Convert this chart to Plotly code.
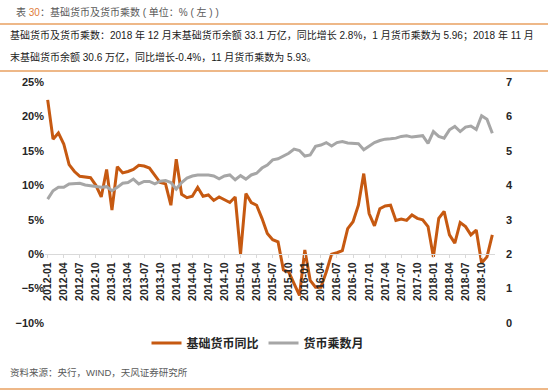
import pandas as pd
import plotly.graph_objects as go

months = pd.date_range("2012-01-01", "2018-12-01", freq="MS").strftime("%Y-%m").tolist()

base_money_yoy = [
    22.4, 16.7, 17.6, 16.0, 13.0, 12.0, 11.3, 11.2, 11.1, 10.0, 8.3, 12.3,   # 2012
    6.4, 12.7, 11.8, 12.0, 12.3, 12.9, 12.8, 12.5, 11.5, 10.4, 10.2, 7.1,    # 2013
    13.8, 8.7, 8.2, 8.4, 9.7, 8.4, 8.6, 7.8, 8.3, 7.9, 7.5, 8.3,             # 2014
    0.0, 8.8, 7.5, 7.1, 5.2, 3.0, 2.1, 1.8, -2.3, -2.6, -4.3, -6.0,         # 2015
    0.6, -3.8, -4.8, -4.8, -2.6, 0.0, 0.2, 0.5, 3.7, 4.7, 7.1, 11.7,        # 2016
    5.9, 4.1, 6.6, 7.0, 7.1, 4.9, 5.1, 4.9, 5.7, 5.2, 5.0, 4.0,             # 2017
    -0.4, 5.2, 6.2, 2.8, 1.6, 4.6, 4.0, 2.8, 3.5, -1.3, -0.4, 2.8,          # 2018
]

money_multiplier = [
    3.60, 3.84, 3.94, 3.94, 4.04, 4.04, 4.06, 4.01, 3.98, 3.96, 3.94, 3.96,  # 2012
    3.84, 3.94, 4.06, 4.08, 4.18, 4.04, 4.11, 4.11, 4.04, 4.12, 4.14, 4.08,  # 2013
    3.89, 4.08, 4.21, 4.27, 4.30, 4.30, 4.30, 4.27, 4.19, 4.27, 4.30, 4.16,  # 2014
    4.28, 4.18, 4.30, 4.35, 4.50, 4.59, 4.74, 4.77, 4.85, 4.93, 5.05, 5.01,  # 2015
    4.85, 4.88, 5.13, 5.17, 5.24, 5.14, 5.24, 5.27, 5.23, 5.23, 5.21, 5.03,  # 2016
    5.14, 5.24, 5.30, 5.34, 5.35, 5.37, 5.42, 5.44, 5.40, 5.42, 5.44, 5.22,  # 2017
    5.56, 5.42, 5.37, 5.61, 5.71, 5.56, 5.69, 5.72, 5.62, 6.02, 5.92, 5.51,  # 2018
]

tick_labels = months[::3]

series_names = ["基础货币同比", "货币乘数月"]

title_text = '表 <span style="color:#E07B39">30</span>：基础货币及货币乘数 ( 单位：% ( 左 ) )'
subtitle_1 = "基础货币及货币乘数：2018 年 12 月末基础货币余额 33.1 万亿，同比增长 2.8%，1 月货币乘数为 5.96；2018 年 11 月"
subtitle_2 = "末基础货币余额 30.6 万亿，同比增长-0.4%，11 月货币乘数为 5.93。"
source_text = "资料来源：央行，WIND，天风证券研究所"

ORANGE = "#C65911"
GRAY = "#A6A6A6"
ACCENT = "#E8A160"
TXT_FONT = "Liberation Sans, Noto Sans CJK SC, sans-serif"

L, R, T, B = 45, 55, 82, 69
W, H = 550, 392
PW, PH = W - L - R, H - T - B


def px(x):
    return (x - L) / PW


def py(y):
    return (H - B - y) / PH


fig = go.Figure()
fig.add_trace(go.Scatter(
    x=months, y=money_multiplier, name=series_names[1], yaxis="y2",
    mode="lines", line=dict(color=GRAY, width=3), legendrank=2,
))
fig.add_trace(go.Scatter(
    x=months, y=base_money_yoy, name=series_names[0], yaxis="y",
    mode="lines", line=dict(color=ORANGE, width=3), legendrank=1,
))

tick_font = dict(family="Liberation Sans, Arial, sans-serif", size=11, color="#262626", weight="bold")

fig.update_layout(
    width=W, height=H,
    margin=dict(l=L, r=R, t=T, b=B, autoexpand=False),
    paper_bgcolor="white", plot_bgcolor="white",
    showlegend=True,
    legend=dict(
        orientation="h", x=px(258), y=py(343), xanchor="center", yanchor="middle",
        font=dict(family="Noto Sans CJK SC", size=12, color="#262626", weight="bold"),
        itemwidth=30, tracegroupgap=0, bgcolor="rgba(0,0,0,0)",
    ),
    xaxis=dict(
        type="category", range=[-0.5, len(months) - 0.5],
        anchor="free", position=10 / 35, automargin=False,
        tickmode="array", tickvals=tick_labels, ticktext=tick_labels,
        tickangle=-90, tickfont=dict(family="Liberation Sans, Arial, sans-serif", size=10.5, color="#262626", weight="bold"),
        showline=True, linecolor="#D9D9D9", linewidth=1,
        ticks="outside", ticklen=3, tickcolor="#D9D9D9",
        showgrid=False, zeroline=False,
    ),
    yaxis=dict(
        range=[-10, 25], dtick=5, tick0=0, ticksuffix="%", automargin=False,
        tickfont=tick_font, showgrid=False, zeroline=False, showline=False,
    ),
    yaxis2=dict(
        range=[0, 7], dtick=1, tick0=0, overlaying="y", side="right", automargin=False,
        tickfont=tick_font, showgrid=False, zeroline=False, showline=False,
        ticklabelstandoff=10,
    ),
    shapes=[
        dict(type="line", xref="paper", yref="paper", x0=px(0), x1=px(548), y0=py(24), y1=py(24),
             line=dict(color=ACCENT, width=1.5)),
        dict(type="line", xref="paper", yref="paper", x0=px(0), x1=px(548), y0=py(71), y1=py(71),
             line=dict(color=ACCENT, width=1.5)),
        dict(type="line", xref="paper", yref="paper", x0=px(0), x1=px(548), y0=py(389), y1=py(389),
             line=dict(color=ACCENT, width=1.5)),
    ],
    annotations=[
        dict(text=title_text, xref="paper", yref="paper", x=px(14), y=py(12), xanchor="left", yanchor="middle",
             showarrow=False, font=dict(family=TXT_FONT, size=10, color="#595959")),
        dict(text=subtitle_1, xref="paper", yref="paper", x=px(8), y=py(35), xanchor="left", yanchor="middle",
             showarrow=False, font=dict(family=TXT_FONT, size=10, color="#1a1a1a")),
        dict(text=subtitle_2, xref="paper", yref="paper", x=px(8), y=py(57), xanchor="left", yanchor="middle",
             showarrow=False, font=dict(family=TXT_FONT, size=10, color="#1a1a1a")),
        dict(text=source_text, xref="paper", yref="paper", x=px(8), y=py(372), xanchor="left", yanchor="middle",
             showarrow=False, font=dict(family=TXT_FONT, size=9.5, color="#595959")),
    ],
)

fig.write_html(
    "out.html",
    config={"displayModeBar": False},
    post_script="document.body.style.margin='0';document.body.style.padding='0';",
)
